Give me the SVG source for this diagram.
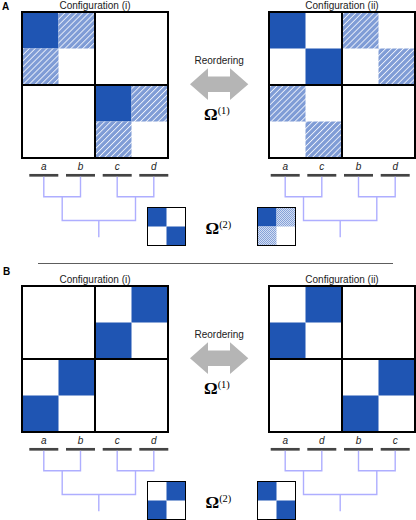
<svg xmlns="http://www.w3.org/2000/svg" width="416" height="520" viewBox="0 0 416 520">
<defs>
<pattern id="hatch" patternUnits="userSpaceOnUse" width="4.2" height="4.2" patternTransform="rotate(45)">
<rect width="4.2" height="4.2" fill="#7f9cd6"/>
<rect width="0.9" height="4.2" fill="#eef2fb"/>
</pattern>
<pattern id="dots" patternUnits="userSpaceOnUse" width="2" height="2">
<rect width="2" height="2" fill="#d2ddf2"/>
<rect width="1" height="1" fill="#86a2d9"/>
<rect x="1" y="1" width="1" height="1" fill="#86a2d9"/>
</pattern>
<polygon id="dbl" points="190,84.2 208,68.3 208,76.5 230,76.5 230,68.3 248.3,84.2 230,100 230,92 208,92 208,100" fill="#b5b5b5"/>
</defs>
<style>
.s{fill:#1f55b3}
.h{fill:url(#hatch)}
.d{fill:url(#dots)}
.fr{fill:none;stroke:#000;stroke-width:2}
.bg{fill:#fff}
.sm{fill:none;stroke:#000;stroke-width:1}
.ttl{font-family:"Liberation Sans",Arial,sans-serif;font-size:10px;fill:#222;text-anchor:middle}
.pl{font-family:"Liberation Sans",Arial,sans-serif;font-size:10px;font-weight:bold;fill:#000}
.lf{font-family:"Liberation Sans",Arial,sans-serif;font-size:10px;font-style:italic;fill:#222;text-anchor:middle}
.om{font-family:"Liberation Serif","Times New Roman",serif;font-size:17px;font-weight:bold;fill:#000}
.sup{font-family:"Liberation Serif","Times New Roman",serif;font-size:10.5px;font-weight:normal}
.bar{stroke:#444;stroke-width:2.7}
.tr{fill:none;stroke:#aeaeff;stroke-width:1.4}
</style>
<rect width="416" height="520" fill="#fff"/>

<text class="pl" x="2" y="10">A</text>
<text class="pl" x="3" y="275">B</text>
<line x1="38" y1="263.5" x2="393" y2="263.5" stroke="#333" stroke-width="0.8"/>

<!-- Panel A -->
<g id="A-config-i">
<text class="ttl" x="95" y="8.5">Configuration (i)</text>
<rect class="bg" x="22" y="12" width="146" height="146"/>
<rect class="s" x="22" y="12" width="36.5" height="36.5"/>
<rect class="h" x="58.5" y="12" width="36.5" height="36.5"/>
<rect class="h" x="22" y="48.5" width="36.5" height="36.5"/>
<rect class="s" x="95" y="85" width="36.5" height="36.5"/>
<rect class="h" x="131.5" y="85" width="36.5" height="36.5"/>
<rect class="h" x="95" y="121.5" width="36.5" height="36.5"/>
<rect class="fr" x="22" y="12" width="146" height="146"/>
<path class="fr" d="M95 12V158M22 85H168"/>
</g>
<g id="A-config-ii">
<text class="ttl" x="342" y="8.5">Configuration (ii)</text>
<rect class="bg" x="269" y="12" width="146" height="146"/>
<rect class="s" x="269" y="12" width="36.5" height="36.5"/>
<rect class="s" x="305.5" y="48.5" width="36.5" height="36.5"/>
<rect class="h" x="342" y="12" width="36.5" height="36.5"/>
<rect class="h" x="378.5" y="48.5" width="36.5" height="36.5"/>
<rect class="h" x="269" y="85" width="36.5" height="36.5"/>
<rect class="h" x="305.5" y="121.5" width="36.5" height="36.5"/>
<rect class="fr" x="269" y="12" width="146" height="146"/>
<path class="fr" d="M342 12V158M269 85H415"/>
</g>
<g id="A-reorder">
<text class="ttl" x="219.2" y="63.5">Reordering</text>
<use href="#dbl"/>
<text class="om" x="204" y="120">Ω<tspan class="sup" dy="-6">(1)</tspan></text>
</g>
<g id="A-leaves-i">
<line class="bar" x1="29.3" y1="175.3" x2="58.3" y2="175.3"/>
<line class="bar" x1="66" y1="175.3" x2="95" y2="175.3"/>
<line class="bar" x1="102.7" y1="175.3" x2="131.7" y2="175.3"/>
<line class="bar" x1="139.3" y1="175.3" x2="168.3" y2="175.3"/>
<text class="lf" x="43.8" y="170">a</text>
<text class="lf" x="80.5" y="170">b</text>
<text class="lf" x="117.2" y="170">c</text>
<text class="lf" x="153.8" y="170">d</text>
</g>
<g id="A-leaves-ii">
<line class="bar" x1="270.7" y1="175.3" x2="299.7" y2="175.3"/>
<line class="bar" x1="307.3" y1="175.3" x2="336.3" y2="175.3"/>
<line class="bar" x1="344" y1="175.3" x2="373" y2="175.3"/>
<line class="bar" x1="380.7" y1="175.3" x2="409.7" y2="175.3"/>
<text class="lf" x="285.2" y="170">a</text>
<text class="lf" x="321.8" y="170">c</text>
<text class="lf" x="358.5" y="170">b</text>
<text class="lf" x="395.2" y="170">d</text>
</g>
<g id="A-small-i">
<rect class="bg" x="147.5" y="207.5" width="38" height="38"/>
<rect class="s" x="148" y="208" width="18.5" height="18.5"/>
<rect class="s" x="166.5" y="226.5" width="18.5" height="18.5"/>
<rect class="sm" x="147.5" y="207.5" width="38" height="38"/>
</g>
<g id="A-small-ii">
<rect class="bg" x="257.5" y="207.5" width="38" height="38"/>
<rect class="s" x="258" y="208" width="18.5" height="18.5"/>
<rect class="d" x="276.5" y="208" width="18.5" height="18.5"/>
<rect class="d" x="258" y="226.5" width="18.5" height="18.5"/>
<rect class="sm" x="257.5" y="207.5" width="38" height="38"/>
</g>
<g id="A-omega2">
<text class="om" x="205.5" y="234">Ω<tspan class="sup" dy="-6">(2)</tspan></text>
</g>

<!-- Panel B -->
<g id="B-config-i">
<text class="ttl" x="95" y="282.5">Configuration (i)</text>
<rect class="bg" x="22" y="286" width="146" height="146"/>
<rect class="s" x="131.5" y="286" width="36.5" height="36.5"/>
<rect class="s" x="95" y="322.5" width="36.5" height="36.5"/>
<rect class="s" x="58.5" y="359" width="36.5" height="36.5"/>
<rect class="s" x="22" y="395.5" width="36.5" height="36.5"/>
<rect class="fr" x="22" y="286" width="146" height="146"/>
<path class="fr" d="M95 286V432M22 359H168"/>
</g>
<g id="B-config-ii">
<text class="ttl" x="342" y="282.5">Configuration (ii)</text>
<rect class="bg" x="269" y="286" width="146" height="146"/>
<rect class="s" x="305.5" y="286" width="36.5" height="36.5"/>
<rect class="s" x="269" y="322.5" width="36.5" height="36.5"/>
<rect class="s" x="378.5" y="359" width="36.5" height="36.5"/>
<rect class="s" x="342" y="395.5" width="36.5" height="36.5"/>
<rect class="fr" x="269" y="286" width="146" height="146"/>
<path class="fr" d="M342 286V432M269 359H415"/>
</g>
<g id="B-reorder">
<text class="ttl" x="219.2" y="337.5">Reordering</text>
<use href="#dbl" y="274"/>
<text class="om" x="204" y="394">Ω<tspan class="sup" dy="-6">(1)</tspan></text>
</g>
<g id="B-leaves-i">
<line class="bar" x1="29.3" y1="449.3" x2="58.3" y2="449.3"/>
<line class="bar" x1="66" y1="449.3" x2="95" y2="449.3"/>
<line class="bar" x1="102.7" y1="449.3" x2="131.7" y2="449.3"/>
<line class="bar" x1="139.3" y1="449.3" x2="168.3" y2="449.3"/>
<text class="lf" x="43.8" y="444">a</text>
<text class="lf" x="80.5" y="444">b</text>
<text class="lf" x="117.2" y="444">c</text>
<text class="lf" x="153.8" y="444">d</text>
</g>
<g id="B-leaves-ii">
<line class="bar" x1="270.7" y1="449.3" x2="299.7" y2="449.3"/>
<line class="bar" x1="307.3" y1="449.3" x2="336.3" y2="449.3"/>
<line class="bar" x1="344" y1="449.3" x2="373" y2="449.3"/>
<line class="bar" x1="380.7" y1="449.3" x2="409.7" y2="449.3"/>
<text class="lf" x="285.2" y="444">a</text>
<text class="lf" x="321.8" y="444">d</text>
<text class="lf" x="358.5" y="444">b</text>
<text class="lf" x="395.2" y="444">c</text>
</g>
<g id="B-small-i">
<rect class="bg" x="147.5" y="481.5" width="38" height="38"/>
<rect class="s" x="166.5" y="482" width="18.5" height="18.5"/>
<rect class="s" x="148" y="500.5" width="18.5" height="18.5"/>
<rect class="sm" x="147.5" y="481.5" width="38" height="38"/>
</g>
<g id="B-small-ii">
<rect class="bg" x="257.5" y="481.5" width="38" height="38"/>
<rect class="s" x="258" y="482" width="18.5" height="18.5"/>
<rect class="s" x="276.5" y="500.5" width="18.5" height="18.5"/>
<rect class="sm" x="257.5" y="481.5" width="38" height="38"/>
</g>
<g id="B-omega2">
<text class="om" x="205.5" y="508">Ω<tspan class="sup" dy="-6">(2)</tspan></text>
</g>

<g id="connectors">
<path class="tr" d="M43.8 176.7V196.7H80.5V176.7M117.2 176.7V196.7H153.8V176.7M62.2 196.7V220.5H135.5V196.7M98.8 220.5V237.3"/>
<path class="tr" d="M285.2 176.7V196.7H321.8V176.7M358.5 176.7V196.7H395.2V176.7M303.5 196.7V220.5H376.8V196.7M340.2 220.5V237.3"/>
<path class="tr" d="M43.8 450.7V470.7H80.5V450.7M117.2 450.7V470.7H153.8V450.7M62.2 470.7V494.5H135.5V470.7M98.8 494.5V511.3"/>
<path class="tr" d="M285.2 450.7V470.7H321.8V450.7M358.5 450.7V470.7H395.2V450.7M303.5 470.7V494.5H376.8V470.7M340.2 494.5V511.3"/>
</g>
</svg>
